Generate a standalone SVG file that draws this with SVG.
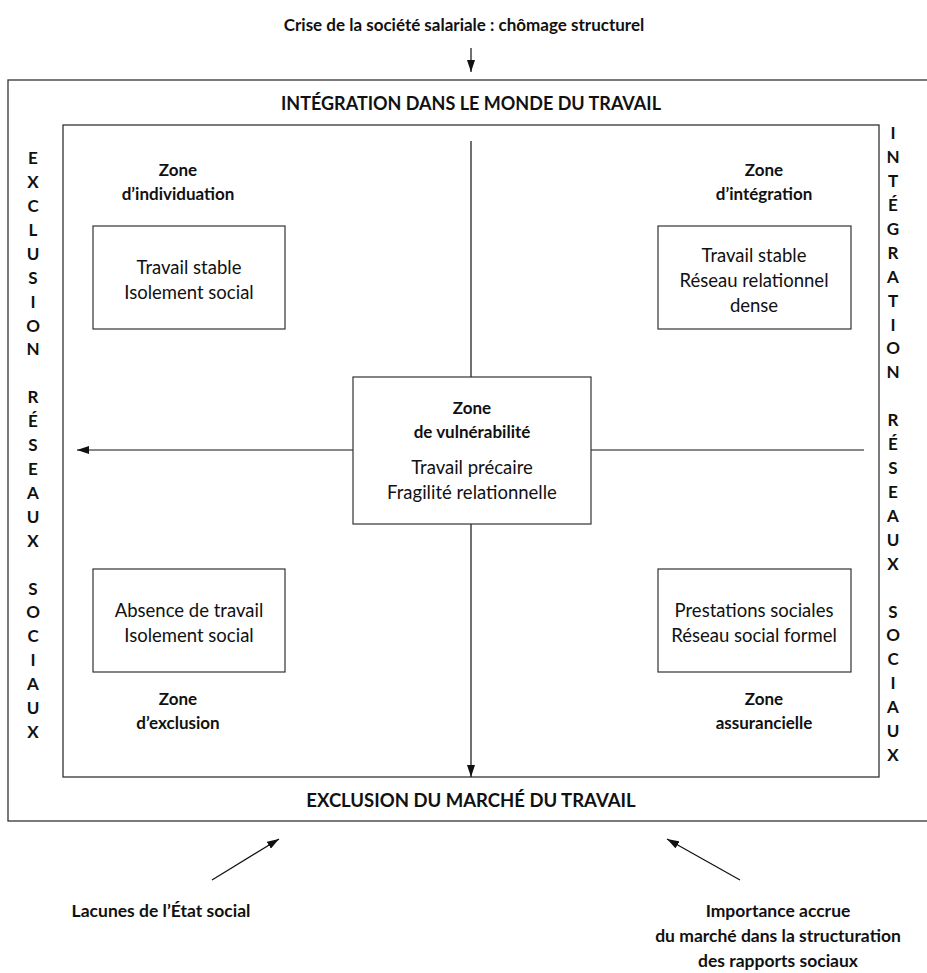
<svg xmlns="http://www.w3.org/2000/svg" width="927" height="973" viewBox="0 0 927 973">
<style>
text{font-family:Lato,"Open Sans","DejaVu Sans",sans-serif;fill:#111;text-anchor:middle}
.b{font-weight:bold;font-size:17px}
.bb{font-weight:bold;font-size:17.5px}
.r{font-size:18.5px}
.cap{font-weight:bold;font-size:18px}
.cap2{font-weight:bold;font-size:18.5px}
.side{font-weight:bold;font-size:17px}
.frame{fill:none;stroke:#333;stroke-width:1.3}
.box{fill:#fff;stroke:#333;stroke-width:1.2}
.ln{fill:none;stroke:#111;stroke-width:1.2}
</style>
<defs>
<marker id="ah" viewBox="0 0 12 8" refX="12" refY="4" markerWidth="12" markerHeight="8" markerUnits="userSpaceOnUse" orient="auto">
<path d="M0,0 L12,4 L0,8 z" fill="#111"/>
</marker>
</defs>
<rect width="927" height="973" fill="#fff"/>
<g id="frames">
<rect class="frame" x="8" y="80" width="940" height="741"/>
<rect class="frame" x="63" y="125" width="816" height="652"/>
</g>
<g id="connectors">
<line class="ln" x1="471" y1="48" x2="471" y2="72" marker-end="url(#ah)"/>
<line class="ln" x1="471" y1="141" x2="471" y2="377"/>
<line class="ln" x1="471" y1="524" x2="471" y2="777" marker-end="url(#ah)"/>
<line class="ln" x1="864" y1="450" x2="591" y2="450"/>
<line class="ln" x1="353" y1="450" x2="77" y2="450" marker-end="url(#ah)"/>
<line class="ln" x1="212" y1="880" x2="279" y2="839" marker-end="url(#ah)"/>
<line class="ln" x1="740" y1="880" x2="667" y2="839" marker-end="url(#ah)"/>
</g>
<g id="title"><text class="b" x="464" y="31">Crise de la société salariale : chômage structurel</text></g>
<g id="top-label"><text class="cap" x="471" y="110">INTÉGRATION DANS LE MONDE DU TRAVAIL</text></g>
<g id="bottom-label"><text class="cap2" x="471" y="807">EXCLUSION DU MARCHÉ DU TRAVAIL</text></g>
<g id="zone-individuation">
<text class="b" x="178" y="176">Zone</text>
<text class="b" x="178" y="200">d’individuation</text>
<rect class="box" x="93" y="226" width="192" height="103"/>
<text class="r" x="189" y="274">Travail stable</text>
<text class="r" x="189" y="299">Isolement social</text>
</g>
<g id="zone-integration">
<text class="b" x="764" y="176">Zone</text>
<text class="b" x="764" y="200">d’intégration</text>
<rect class="box" x="658" y="226" width="193" height="103"/>
<text class="r" x="754" y="262">Travail stable</text>
<text class="r" x="754" y="287">Réseau relationnel</text>
<text class="r" x="754" y="312">dense</text>
</g>
<g id="zone-vulnerabilite">
<rect class="box" x="353" y="377" width="238" height="147"/>
<text class="b" x="472" y="414">Zone</text>
<text class="b" x="472" y="438">de vulnérabilité</text>
<text class="r" x="472" y="474">Travail précaire</text>
<text class="r" x="472" y="499">Fragilité relationnelle</text>
</g>
<g id="zone-exclusion">
<rect class="box" x="93" y="569" width="192" height="103"/>
<text class="r" x="189" y="617">Absence de travail</text>
<text class="r" x="189" y="642">Isolement social</text>
<text class="b" x="178" y="705">Zone</text>
<text class="b" x="178" y="729">d’exclusion</text>
</g>
<g id="zone-assurancielle">
<rect class="box" x="658" y="569" width="193" height="103"/>
<text class="r" x="754" y="617">Prestations sociales</text>
<text class="r" x="754" y="642">Réseau social formel</text>
<text class="b" x="764" y="705">Zone</text>
<text class="b" x="764" y="729">assurancielle</text>
</g>
<g id="left-side">
<text class="side" x="33" y="164">E</text>
<text class="side" x="33" y="188">X</text>
<text class="side" x="33" y="212">C</text>
<text class="side" x="33" y="236">L</text>
<text class="side" x="33" y="260">U</text>
<text class="side" x="33" y="284">S</text>
<text class="side" x="33" y="308">I</text>
<text class="side" x="33" y="332">O</text>
<text class="side" x="33" y="355">N</text>
<text class="side" x="33" y="403">R</text>
<text class="side" x="33" y="427">É</text>
<text class="side" x="33" y="451">S</text>
<text class="side" x="33" y="475">E</text>
<text class="side" x="33" y="499">A</text>
<text class="side" x="33" y="523">U</text>
<text class="side" x="33" y="547">X</text>
<text class="side" x="33" y="595">S</text>
<text class="side" x="33" y="618">O</text>
<text class="side" x="33" y="642">C</text>
<text class="side" x="33" y="666">I</text>
<text class="side" x="33" y="690">A</text>
<text class="side" x="33" y="714">U</text>
<text class="side" x="33" y="738">X</text>
</g>
<g id="right-side">
<text class="side" x="893" y="139">I</text>
<text class="side" x="893" y="163">N</text>
<text class="side" x="893" y="187">T</text>
<text class="side" x="893" y="211">É</text>
<text class="side" x="893" y="235">G</text>
<text class="side" x="893" y="259">R</text>
<text class="side" x="893" y="283">A</text>
<text class="side" x="893" y="307">T</text>
<text class="side" x="893" y="331">I</text>
<text class="side" x="893" y="354">O</text>
<text class="side" x="893" y="378">N</text>
<text class="side" x="893" y="426">R</text>
<text class="side" x="893" y="450">É</text>
<text class="side" x="893" y="474">S</text>
<text class="side" x="893" y="498">E</text>
<text class="side" x="893" y="522">A</text>
<text class="side" x="893" y="546">U</text>
<text class="side" x="893" y="570">X</text>
<text class="side" x="893" y="618">S</text>
<text class="side" x="893" y="641">O</text>
<text class="side" x="893" y="665">C</text>
<text class="side" x="893" y="689">I</text>
<text class="side" x="893" y="713">A</text>
<text class="side" x="893" y="737">U</text>
<text class="side" x="893" y="761">X</text>
</g>
<g id="lacunes"><text class="bb" x="161" y="917">Lacunes de l’État social</text></g>
<g id="importance">
<text class="bb" x="778" y="917">Importance accrue</text>
<text class="bb" x="778" y="942">du marché dans la structuration</text>
<text class="bb" x="778" y="967">des rapports sociaux</text>
</g>
</svg>
